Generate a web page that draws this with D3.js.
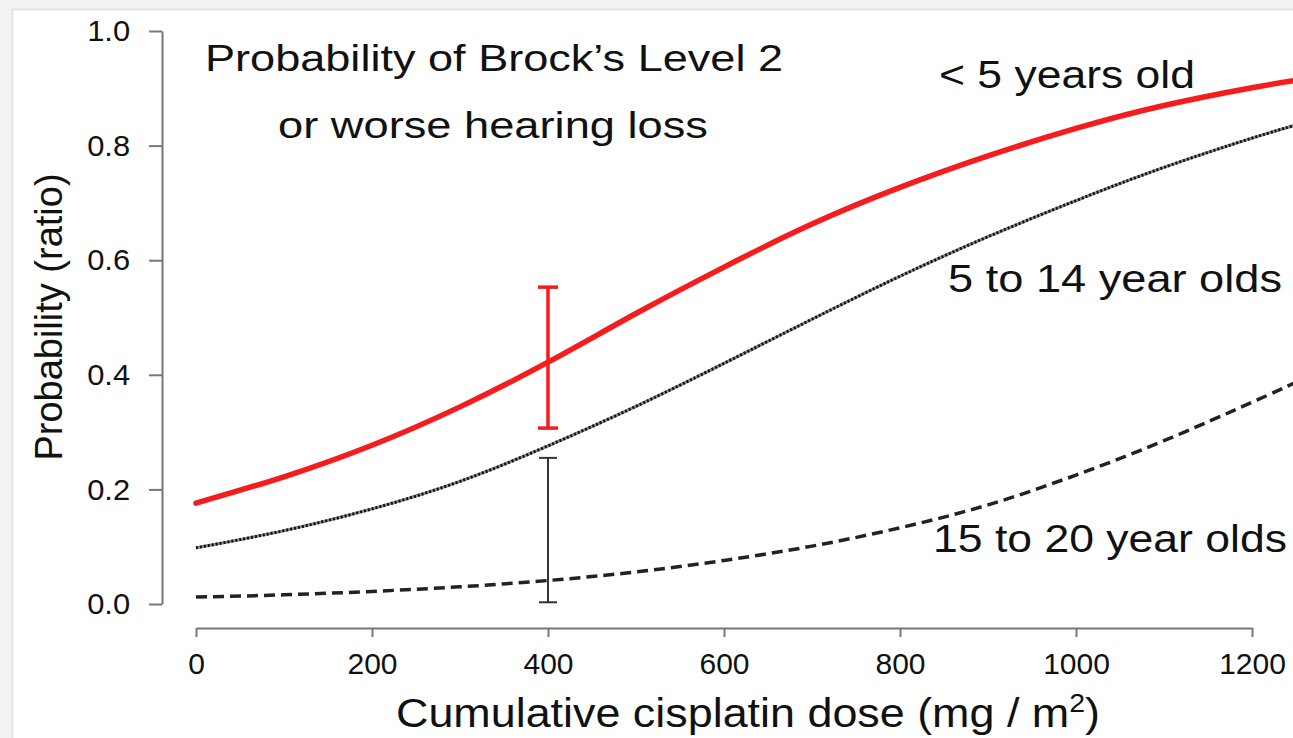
<!DOCTYPE html>
<head>
    <meta charset="utf-8">
    <title>Cisplatin hearing loss</title>
    <style>
        body { margin: 0; background: #fff; }
        svg { display: block; font-family: "Liberation Sans", Arial, sans-serif; }
        .axis path, .axis line { stroke: #777; stroke-width: 2px; }
        .axis text { fill: #111; font-size: 30px; font-family: "Liberation Sans", Arial, sans-serif; }
        .label { fill: #111; }
    </style>
</head>
<body>
<svg width="1293" height="738"></svg>
<script src="https://d3js.org/d3.v7.min.js"></script>
<script>

// dose (mg/m2)
var doses = [0, 100, 200, 300, 400, 500, 600, 700, 800, 900, 1000, 1100, 1200, 1250];
var under5 = [0.176, 0.222, 0.277, 0.344, 0.422, 0.507, 0.588, 0.663, 0.727, 0.782, 0.830, 0.870, 0.901, 0.914];
var age5to14 = [0.098, 0.128, 0.166, 0.214, 0.276, 0.345, 0.420, 0.497, 0.572, 0.641, 0.704, 0.762, 0.813, 0.836];
var age15to20 = [0.012, 0.016, 0.022, 0.030, 0.041, 0.056, 0.076, 0.101, 0.133, 0.173, 0.225, 0.285, 0.352, 0.387];

// confidence intervals at 400 mg/m2
var ciDose = 400;
var ciUnder5 = [0.307, 0.553];
var ci5to14 = [0.003, 0.255];

var xTicks = [0, 200, 400, 600, 800, 1000, 1200];
var yTicks = [0, 0.2, 0.4, 0.6, 0.8, 1.0];

var svg = d3.select("svg");

// light frame along top and left edge
svg.append("rect").attr("x", 0).attr("y", 0).attr("width", 1293).attr("height", 9).attr("fill", "#f2f2f2");
svg.append("rect").attr("x", 0).attr("y", 0).attr("width", 12).attr("height", 738).attr("fill", "#f2f2f2");
svg.append("line").attr("x1", 12).attr("x2", 1293).attr("y1", 9.5).attr("y2", 9.5).attr("stroke", "#e3e3e3").attr("stroke-width", 2);
svg.append("line").attr("x1", 12.5).attr("x2", 12.5).attr("y1", 9).attr("y2", 738).attr("stroke", "#e3e3e3").attr("stroke-width", 2);

var x = d3.scaleLinear().domain([0, 1200]).range([196, 1252]);
var y = d3.scaleLinear().domain([0, 1]).range([604, 31]);

svg.append("g")
    .attr("class", "axis")
    .attr("transform", "translate(0,628)")
    .call(d3.axisBottom(x).tickValues(xTicks).tickSize(9).tickSizeOuter(0).tickPadding(16).tickFormat(d3.format("d")));

var yAxis = svg.append("g")
    .attr("class", "axis")
    .attr("transform", "translate(162,0)")
    .call(d3.axisLeft(y).tickValues(yTicks).tickSize(13).tickSizeOuter(0).tickPadding(18).tickFormat(d3.format(".1f")));
yAxis.selectAll("text").attr("transform", "scale(1.03,1)");

function series(vals) {
    return doses.map(function(d, i) { return [d, vals[i]]; });
}

var line = d3.line()
    .x(function(d) { return x(d[0]); })
    .y(function(d) { return y(d[1]); })
    .curve(d3.curveNatural);

// 15 to 20: dashed
svg.append("path").datum(series(age15to20))
    .attr("d", line).attr("fill", "none")
    .attr("stroke", "#222").attr("stroke-width", 3.5)
    .attr("stroke-dasharray", "11,6");

// 5 to 14: fine dotted
svg.append("path").datum(series(age5to14))
    .attr("d", line).attr("fill", "none")
    .attr("stroke", "#888").attr("stroke-width", 3);
svg.append("path").datum(series(age5to14))
    .attr("d", line).attr("fill", "none")
    .attr("stroke", "#111").attr("stroke-width", 3)
    .attr("stroke-dasharray", "2,2");

// < 5: red
svg.append("path").datum(series(under5))
    .attr("d", line).attr("fill", "none")
    .attr("stroke", "#f41c1c").attr("stroke-width", 5.5)
    .attr("stroke-linecap", "round");

function errorBar(ci, color, width, cap) {
    var g = svg.append("g").attr("stroke", color).attr("stroke-width", width);
    g.append("line").attr("x1", x(ciDose)).attr("x2", x(ciDose)).attr("y1", y(ci[0])).attr("y2", y(ci[1]));
    ci.forEach(function(v) {
        g.append("line").attr("x1", x(ciDose) - cap).attr("x2", x(ciDose) + cap).attr("y1", y(v)).attr("y2", y(v));
    });
}
errorBar(ciUnder5, "#f41c1c", 3.5, 10);
errorBar(ci5to14, "#333", 2, 9);

function label(txt, x0, yb, size, len, anchor) {
    return svg.append("text")
        .attr("class", "label")
        .attr("x", x0).attr("y", yb)
        .attr("font-size", size)
        .attr("text-anchor", anchor || "start")
        .attr("textLength", len)
        .attr("lengthAdjust", "spacingAndGlyphs")
        .text(txt);
}

label("Probability of Brock\u2019s Level 2", 205, 71, 37, 578);
label("or worse hearing loss", 278, 138, 37, 430);
label("< 5 years old", 939, 88, 38, 256);
label("5 to 14 year olds", 948, 292, 38, 334);
label("15 to 20 year olds", 933, 552, 38, 354);

// axis titles
svg.append("text")
    .attr("class", "label")
    .attr("transform", "translate(62,317) rotate(-90)")
    .attr("text-anchor", "middle")
    .attr("font-size", 38)
    .text("Probability (ratio)");

var xl = svg.append("text")
    .attr("class", "label")
    .attr("x", 396).attr("y", 727)
    .attr("font-size", 41)
    .attr("textLength", 704)
    .attr("lengthAdjust", "spacingAndGlyphs");
xl.append("tspan").text("Cumulative cisplatin dose (mg / m");
xl.append("tspan").attr("font-size", 26).attr("dy", -15).text("2");
xl.append("tspan").attr("dy", 15).text(")");

</script>
</body>
</html>
